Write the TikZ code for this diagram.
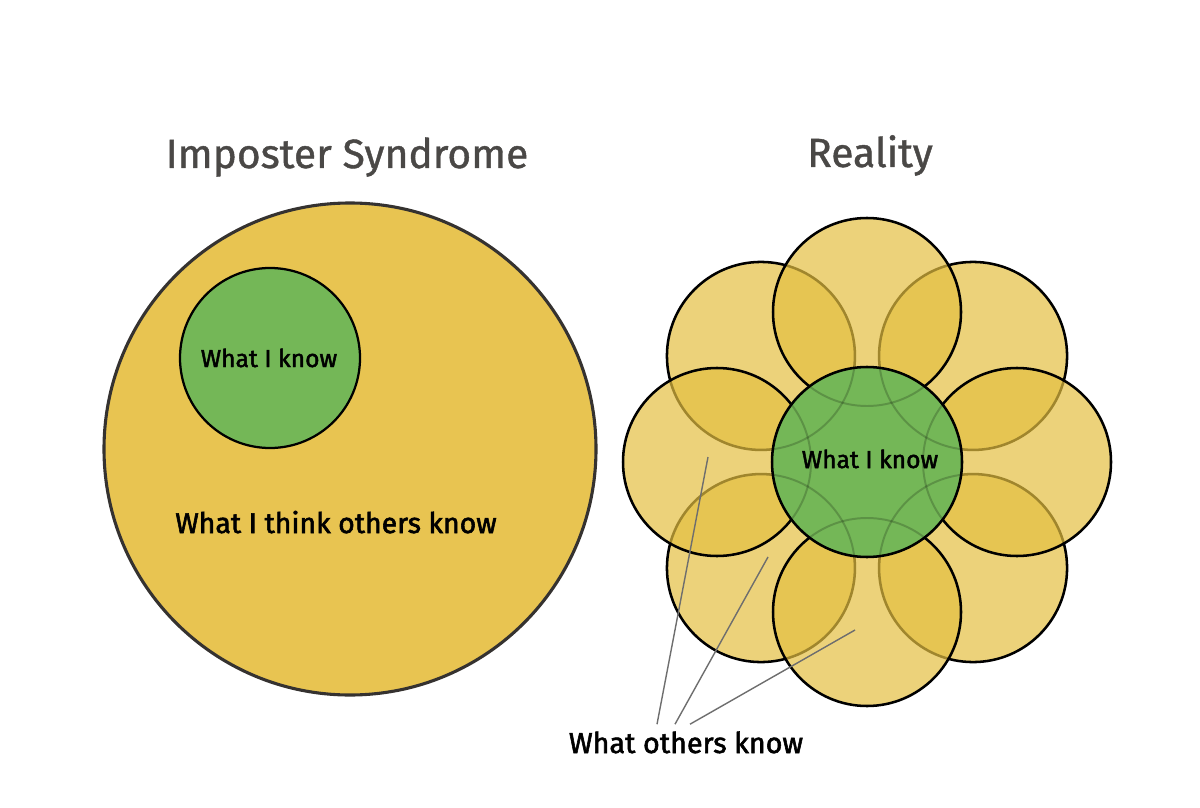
\documentclass[tikz,border=0pt]{standalone}
\usepackage{fontspec}
\setmainfont{Fira Sans}
\newfontfamily\nhanfont[FakeBold=2]{Fira Sans}
\newfontfamily\tdfont[FakeBold=1]{Fira Sans}
\usepackage{xcolor}
\usetikzlibrary{calc, positioning}

\definecolor{vangdam}{HTML}{E8C451}
\definecolor{vangcanh}{HTML}{E4BF41}
\definecolor{xanhla}{HTML}{74B757}
\definecolor{chuxam}{HTML}{4A4846}
\definecolor{vienxam}{HTML}{353230}
\definecolor{daychi}{HTML}{6E6E6E}

\tikzset{
    tieude/.style={anchor=base, text=chuxam, font=\tdfont\fontsize{29}{32}\selectfont},
    nhan/.style={anchor=base, text=black, inner sep=0pt, font=\nhanfont\fontsize{17.5}{20}\selectfont},
    canhhoa/.style={fill=vangcanh, fill opacity=0.7, draw=black, line width=1.8pt},
    chiadan/.style={draw=daychi, line width=1pt}
}

\begin{document}
\begin{tikzpicture}[x=0.025cm, y=-0.025cm]
    % Khung hình: 1200 x 807 điểm ảnh
    \useasboundingbox (0,0) rectangle (1200,807);

    % 1. Hình bên trái: Imposter Syndrome
    \node[tieude] (tdtrai) at (347,168) {Imposter Syndrome};
    \draw[fill=vangdam, draw=vienxam, line width=2.2pt] (350,449) circle (246);
    \draw[fill=xanhla, draw=black, line width=1.6pt] (270,358) circle (90);
    \node[nhan] (biettrai) at (269,367) {What I know};
    \node[nhan, font=\nhanfont\fontsize{20.2}{24}\selectfont] (nguoikhac) at (336,533) {What I think others know};

    % 2. Hình bên phải: Reality (8 cánh hoa quanh vòng tròn xanh)
    \node[tieude] (tdphai) at (870,167) {Reality};
    \coordinate (tam) at (867,462);
    \foreach \g in {45,135,225,315}
        \draw[canhhoa] ($(tam)+(\g:150)$) circle (94);
    \foreach \g in {0,90,180,270}
        \draw[canhhoa] ($(tam)+(\g:150)$) circle (94);
    % vòng tròn xanh che lên, vẫn thấy mờ các đường cánh hoa bên dưới
    \fill[xanhla] (tam) circle (95);
    \begin{scope}
        \clip (tam) circle (95);
        \foreach \g in {0,45,...,315}
            \draw[black, draw opacity=0.2, line width=1.4pt] ($(tam)+(\g:150)$) circle (94);
    \end{scope}
    \draw[black, line width=1.8pt] (tam) circle (95);
    \node[nhan] (bietphai) at (870,468) {What I know};

    % 3. Chú thích và các đường chỉ dẫn
    \node[nhan, font=\nhanfont\fontsize{20.4}{24}\selectfont] (others) at (686,753) {What others know};
    \coordinate (t1) at (708,457);
    \coordinate (t2) at (768,557);
    \coordinate (t3) at (855,630);
    \draw[chiadan] ($(others.north)+(-29,-7)$) -- (t1);
    \draw[chiadan] ($(others.north)+(-11,-7)$) -- (t2);
    \draw[chiadan] ($(others.north)+(4,-7)$) -- (t3);
\end{tikzpicture}
\end{document}
